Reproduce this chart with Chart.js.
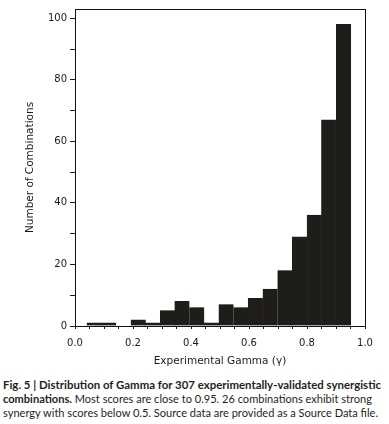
<!DOCTYPE html>
<html>
<head>
<meta charset="utf-8">
<script src="https://cdn.jsdelivr.net/npm/chart.js@4"></script>
<style>
    html, body { margin: 0; padding: 0; background: #fff; overflow: hidden; }
    #wrap { position: relative; width: 389px; height: 370px; }
    #box { position: absolute; border: 1px solid #111; pointer-events: none; box-sizing: border-box; }
    .caption {
        position: absolute; left: 3px; top: 378px; width: 386px;
        font-family: Lato, "Open Sans", sans-serif;
        font-size: 11.5px; line-height: 14px; color: #231f20; white-space: nowrap;
    }
    .caption span { display: inline-block; transform-origin: 0 50%; }
</style>
</head>
<body>
<div id="wrap"><canvas id="gammaChart"></canvas><div id="box"></div></div>
<div class="caption">
    <span data-w="378"><b>Fig. 5 | Distribution of Gamma for 307 experimentally-validated synergistic</b></span><br>
    <span data-w="369"><b>combinations.</b> Most scores are close to 0.95. 26 combinations exhibit strong</span><br>
    <span data-w="375">synergy with scores below 0.5. Source data are provided as a Source Data file.</span>
</div>
<script>
// histogram bins (centres) and counts
const binCenters = [0.066, 0.116, 0.167, 0.218, 0.268, 0.319, 0.369, 0.420, 0.471,
                    0.521, 0.572, 0.622, 0.673, 0.724, 0.774, 0.825, 0.875, 0.926];
const counts = [1, 1, 0, 2, 1, 5, 8, 6, 1, 7, 6, 9, 12, 18, 29, 36, 67, 98];
const xLabels = ['0.0', '0.2', '0.4', '0.6', '0.8', '1.0'];
const yTicks = [0, 10, 20, 30, 40, 50, 60, 70, 80, 90, 100];
const yLabels = [0, 20, 40, 60, 80, 100];

const ink = '#1a1a1a';
const tickFont = { family: 'DejaVu Sans', size: 10 };

// fit caption lines to the widths in the reference
document.querySelectorAll('.caption span').forEach(s => {
    const w = s.getBoundingClientRect().width;
    s.style.transform = 'scaleX(' + (Number(s.dataset.w) / w) + ')';
});

// box round the plot area: canvas edges plus a css overlay on the chart area
const framePlugin = {
    id: 'frame',
    afterDraw(chart) {
        const a = chart.chartArea;
        const c = chart.ctx;
        c.save();
        c.fillStyle = '#000';
        c.fillRect(Math.round(a.left), Math.round(a.top), Math.round(a.right - a.left) + 1, 1);
        c.fillRect(Math.round(a.right), Math.round(a.top), 1, Math.round(a.bottom - a.top) + 1);
        c.restore();

        const box = document.getElementById('box');
        box.style.left = Math.round(a.left) + 'px';
        box.style.top = Math.round(a.top) + 'px';
        box.style.width = (Math.round(a.right - a.left) + 1) + 'px';
        box.style.height = (Math.round(a.bottom - a.top) + 1) + 'px';
    }
};

new Chart(document.getElementById('gammaChart'), {
    type: 'bar',
    data: {
        datasets: [{
            data: binCenters.map((x, i) => ({ x: x, y: counts[i] })),
            backgroundColor: '#1e1d1a',
            borderColor: '#1e1d1a',
            borderWidth: 0.5,
            barPercentage: 1,
            categoryPercentage: 1,
        }],
    },
    options: {
        responsive: true,
        maintainAspectRatio: false,
        animation: false,
        layout: { padding: { left: 0, right: 24, top: 5, bottom: 0 } },
        plugins: { legend: { display: false }, tooltip: { enabled: false } },
        scales: {
            x: {
                type: 'linear',
                min: 0,
                max: 1,
                offset: false,
                border: { display: true, color: '#000' },
                grid: { drawOnChartArea: false, offset: false, tickLength: 3, color: ink },
                ticks: {
                    stepSize: 0.05,
                    autoSkip: false,
                    maxRotation: 0,
                    padding: 8,
                    color: ink,
                    font: tickFont,
                    callback: v => {
                        const k = Math.round(v * 5);
                        if (Math.abs(v * 5 - k) < 1e-6) return xLabels[k];
                        return Math.abs(v * 20 - Math.round(v * 20)) < 1e-6 ? '' : null;
                    },
                },
                title: { display: true, text: 'Experimental Gamma (γ)', color: ink,
                         font: { family: 'DejaVu Sans', size: 10.5 }, padding: { top: 2, bottom: 2 } },
                afterFit: s => { s.height = 44; },
            },
            y: {
                min: 0,
                max: 103,
                border: { display: true, color: '#000' },
                grid: { drawOnChartArea: false, tickLength: 5, color: ink },
                afterBuildTicks: s => { s.ticks = yTicks.map(v => ({ value: v })); },
                ticks: {
                    padding: 3,
                    color: ink,
                    font: tickFont,
                    callback: v => (yLabels.includes(v) ? String(v) : ''),
                },
                title: { display: true, text: 'Number of Combinations', color: ink,
                         font: { family: 'DejaVu Sans', size: 10.5 }, padding: { top: 24, bottom: 0 } },
                afterFit: s => { s.width = 75; },
            },
        },
    },
    plugins: [framePlugin],
});
</script>
</body>
</html>
